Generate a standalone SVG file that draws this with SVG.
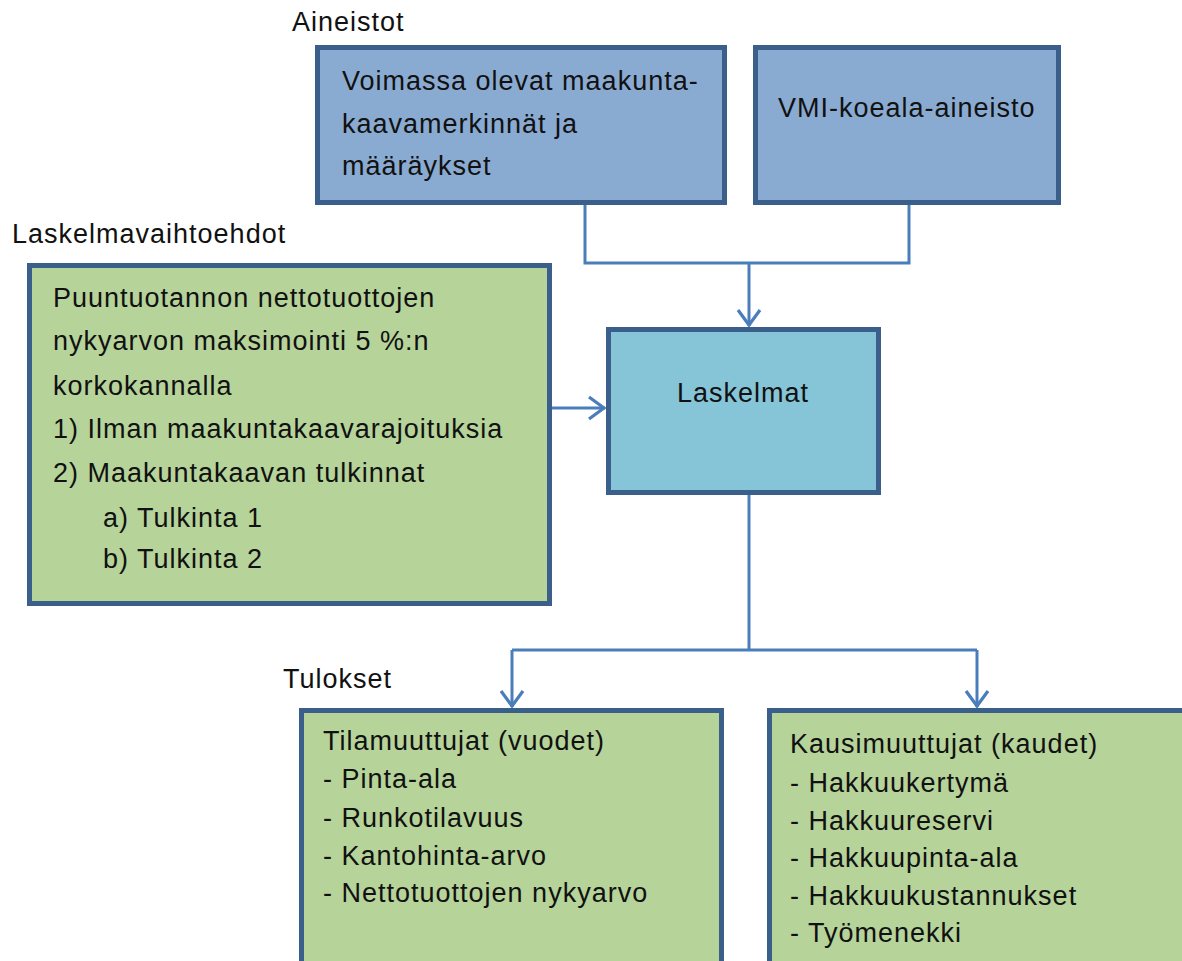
<svg xmlns="http://www.w3.org/2000/svg" width="1182" height="961" viewBox="0 0 1182 961">
<defs>
<marker id="arr" viewBox="0 0 20 26" refX="18" refY="13" markerWidth="20" markerHeight="26" markerUnits="userSpaceOnUse" orient="auto">
<path d="M2,2 L17,13 L2,24" fill="none" stroke="#4a7ebb" stroke-width="3.2"/>
</marker>
<style>
text{font-family:"Liberation Sans",Arial,sans-serif;font-size:27px;letter-spacing:1px;fill:#111;}
.box{stroke:#3b5f8b;stroke-width:5;}
.blue{fill:#8aabd1;}
.cyan{fill:#86c4d8;}
.green{fill:#b6d39a;}
.con{fill:none;stroke:#4a7ebb;stroke-width:3;}
</style>
</defs>
<rect width="1182" height="961" fill="#ffffff"/>
<text x="292" y="31">Aineistot</text>
<text x="12" y="243">Laskelmavaihtoehdot</text>
<text x="283" y="688">Tulokset</text>
<g id="connectors">
<path class="con" d="M585,205 V263 H909 V205"/>
<path class="con" d="M749,263 V326" marker-end="url(#arr)"/>
<path class="con" d="M552,408 H605" marker-end="url(#arr)"/>
<path class="con" d="M749,495 V650"/>
<path class="con" d="M512,650 H977"/>
<path class="con" d="M512,650 V707" marker-end="url(#arr)"/>
<path class="con" d="M977,650 V707" marker-end="url(#arr)"/>
</g>
<g id="voimassa">
<rect class="box blue" x="317.5" y="47.5" width="407" height="155"/>
<text x="342" y="90">Voimassa olevat maakunta-</text>
<text x="342" y="133">kaavamerkinnät ja</text>
<text x="342" y="175">määräykset</text>
</g>
<g id="vmi">
<rect class="box blue" x="755.5" y="47.5" width="303" height="155"/>
<text x="778" y="117">VMI-koeala-aineisto</text>
</g>
<g id="laskelmat">
<rect class="box cyan" x="608.5" y="329.5" width="270" height="163"/>
<text x="743" y="402" text-anchor="middle">Laskelmat</text>
</g>
<g id="vaihtoehdot">
<rect class="box green" x="29.5" y="265.5" width="520" height="338"/>
<text x="53" y="307">Puuntuotannon nettotuottojen</text>
<text x="53" y="350">nykyarvon maksimointi 5 %:n</text>
<text x="53" y="395">korkokannalla</text>
<text x="53" y="438">1) Ilman maakuntakaavarajoituksia</text>
<text x="53" y="482">2) Maakuntakaavan tulkinnat</text>
<text x="103" y="527">a) Tulkinta 1</text>
<text x="103" y="568">b) Tulkinta 2</text>
</g>
<g id="tilamuuttujat">
<rect class="box green" x="301.5" y="710.5" width="420" height="300"/>
<text x="323" y="750">Tilamuuttujat (vuodet)</text>
<text x="323" y="788">- Pinta-ala</text>
<text x="323" y="827">- Runkotilavuus</text>
<text x="323" y="865">- Kantohinta-arvo</text>
<text x="323" y="902">- Nettotuottojen nykyarvo</text>
</g>
<g id="kausimuuttujat">
<rect class="box green" x="769.5" y="710.5" width="450" height="300"/>
<text x="790" y="753">Kausimuuttujat (kaudet)</text>
<text x="790" y="792">- Hakkuukertymä</text>
<text x="790" y="830">- Hakkuureservi</text>
<text x="790" y="867">- Hakkuupinta-ala</text>
<text x="790" y="905">- Hakkuukustannukset</text>
<text x="790" y="942">- Työmenekki</text>
</g>
</svg>
